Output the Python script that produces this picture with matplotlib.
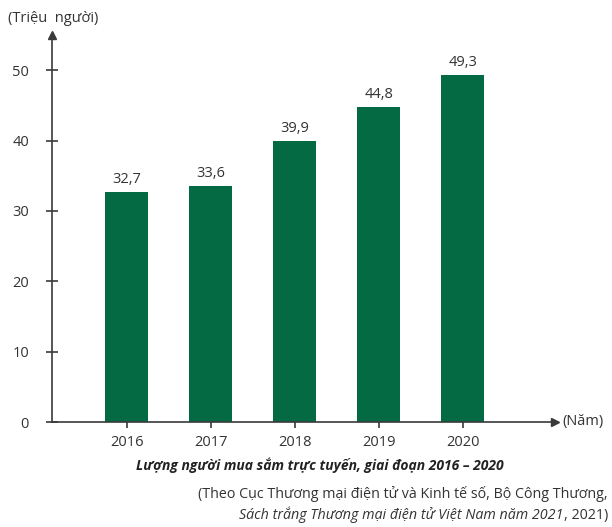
import matplotlib
matplotlib.use("Agg")
import matplotlib.pyplot as plt

years = ["2016", "2017", "2018", "2019", "2020"]
values = [32.7, 33.6, 39.9, 44.8, 49.3]
value_labels = ["32,7", "33,6", "39,9", "44,8", "49,3"]
yticks = [0, 10, 20, 30, 40, 50]

plt.rcParams['font.family'] = ['Open Sans', 'DejaVu Sans']

W, H = 612, 527
fig = plt.figure(figsize=(W/100, H/100), dpi=100)
ax = fig.add_axes([52/W, 105/H, 503/W, 387/H])

bar_color = '#046a44'
axis_color = '#3a3a3a'
text_color = '#333333'
x = list(range(len(years)))
ax.bar(x, values, width=0.51, color=bar_color, zorder=2)
for xi, v, lab in zip(x, values, value_labels):
    ax.text(xi, v + 0.7, lab, ha='center', va='bottom', fontsize=10.5, color=text_color)

ax.set_xlim(-0.887, 5.10)
ax.set_ylim(0, 55)
ax.set_yticks(yticks)
ax.set_yticklabels([str(t) for t in yticks], fontsize=10.5, color=text_color)
ax.set_xticks(x)
ax.set_xticklabels(years, fontsize=10.5, color=text_color)

for s in ['top', 'right']:
    ax.spines[s].set_visible(False)
for s in ['left', 'bottom']:
    ax.spines[s].set_color(axis_color)
    ax.spines[s].set_linewidth(1.2)
ax.tick_params(axis='y', direction='inout', length=9, width=1.2, color=axis_color, pad=12)
ax.tick_params(axis='x', direction='out', length=4, width=1.2, color=axis_color, pad=5)

ax.plot(1, 0, '>', transform=ax.transAxes, clip_on=False, color=axis_color, markersize=6)
ax.plot(0, 1, '^', transform=ax.transAxes, clip_on=False, color=axis_color, markersize=6)

fig.text(8/W, 1 - 18/H, "(Triệu  người)", fontsize=10.5, color=text_color, ha='left', va='center')
fig.text(562/W, 1 - 422/H, "(Năm)", fontsize=10.5, color=text_color, ha='left', va='center')

fig.text(320/W, 1 - 465/H, "Lượng người mua sắm trực tuyến, giai đoạn 2016 – 2020",
         fontsize=10, fontweight='bold', fontstyle='italic', color='#222222', ha='center', va='center')
fig.text(608/W, 1 - 494/H, "(Theo Cục Thương mại điện tử và Kinh tế số, Bộ Công Thương,",
         fontsize=10.3, color=text_color, ha='right', va='center')

t_end = fig.text(608/W, 1 - 515/H, ", 2021)", fontsize=10.3, color=text_color, ha='right', va='center')
renderer = fig.canvas.get_renderer()
bb = t_end.get_window_extent(renderer=renderer)
fig.text(bb.x0 / W, 1 - 515/H, "Sách trắng Thương mại điện tử Việt Nam năm 2021",
         fontsize=10.3, fontstyle='italic', color=text_color, ha='right', va='center')

fig.savefig("out.png", dpi=100)
